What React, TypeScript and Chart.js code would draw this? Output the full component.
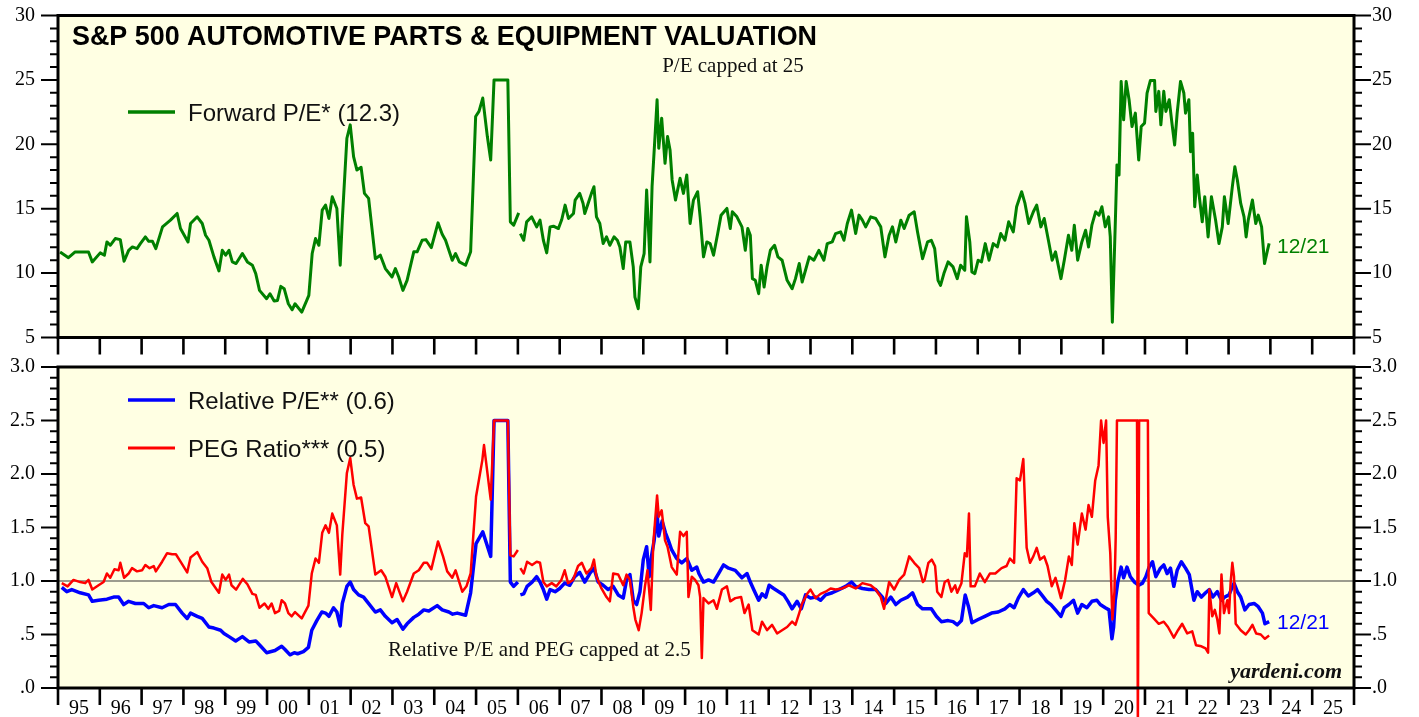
import React, { useEffect, useRef } from "react";
import { Chart, registerables } from "chart.js";

Chart.register(...registerables);

// ---------- DATA ----------
const yearTicks = [1995, 1996, 1997, 1998, 1999, 2000, 2001, 2002, 2003, 2004, 2005, 2006, 2007, 2008, 2009, 2010, 2011, 2012, 2013, 2014, 2015, 2016, 2017, 2018, 2019, 2020, 2021, 2022, 2023, 2024, 2025, 2026];
const yearLabels = ["95", "96", "97", "98", "99", "00", "01", "02", "03", "04", "05", "06", "07", "08", "09", "10", "11", "12", "13", "14", "15", "16", "17", "18", "19", "20", "21", "22", "23", "24", "25"];
const peTickLabels = ["5", "10", "15", "20", "25", "30"];
const ratioTickLabels = [".0", ".5", "1.0", "1.5", "2.0", "2.5", "3.0"];

// [decimal year, value]
const forwardPE: [number, number | null][] = [
  [1995.05, 11.64], [1995.25, 11.2], [1995.41, 11.64], [1995.73, 11.64], [1995.82, 10.87], [1996.01, 11.57], [1996.11, 11.39], [1996.17, 12.42], [1996.25, 12.16], [1996.37, 12.68],
  [1996.49, 12.6], [1996.58, 10.92], [1996.69, 11.77], [1996.78, 12.03], [1996.89, 11.9], [1996.97, 12.29], [1997.09, 12.81], [1997.17, 12.47], [1997.26, 12.47], [1997.34, 11.9],
  [1997.5, 13.59], [1997.69, 14.11], [1997.85, 14.63], [1997.93, 13.46], [1998.11, 12.42], [1998.17, 13.85], [1998.33, 14.37], [1998.45, 13.85], [1998.53, 12.94], [1998.61, 12.55],
  [1998.73, 11.26], [1998.85, 10.17], [1998.93, 11.77], [1999.01, 11.39], [1999.09, 11.77], [1999.17, 10.87], [1999.26, 10.74], [1999.41, 11.52], [1999.53, 10.87], [1999.65, 10.61],
  [1999.73, 9.96], [1999.82, 8.66], [1999.99, 8.01], [2000.07, 8.4], [2000.17, 7.83], [2000.25, 7.88], [2000.33, 8.97], [2000.41, 8.79], [2000.51, 7.62], [2000.6, 7.15],
  [2000.67, 7.62], [2000.83, 6.97], [2000.95, 7.88], [2001.0, 8.27], [2001.08, 11.52], [2001.16, 12.68], [2001.24, 12.16], [2001.32, 14.89], [2001.4, 15.28], [2001.48, 14.24],
  [2001.56, 15.93], [2001.67, 15.02], [2001.75, 10.61], [2001.8, 14.11], [2001.91, 20.47], [2001.99, 21.51], [2002.07, 19.04], [2002.15, 18.0], [2002.25, 18.21], [2002.33, 16.19],
  [2002.43, 15.8], [2002.59, 11.12], [2002.71, 11.39], [2002.83, 10.35], [2002.99, 9.7], [2003.07, 10.35], [2003.15, 9.7], [2003.25, 8.66], [2003.35, 9.44], [2003.51, 11.65],
  [2003.59, 11.65], [2003.71, 12.55], [2003.8, 12.6], [2003.93, 11.98], [2004.09, 13.9], [2004.19, 13.02], [2004.27, 12.55], [2004.43, 11.0], [2004.51, 11.52], [2004.6, 10.87],
  [2004.75, 10.61], [2004.87, 11.65], [2004.99, 22.16], [2005.07, 22.55], [2005.16, 23.59], [2005.27, 20.6], [2005.35, 18.78], [2005.43, 25.0], [2005.76, 25.0], [2005.82, 13.98],
  [2005.9, 13.72], [2006.02, 14.68], [2006.04, null], [2006.06, 13.07], [2006.14, 12.55], [2006.21, 13.98], [2006.33, 14.37], [2006.45, 13.59], [2006.53, 14.11], [2006.61, 12.55],
  [2006.69, 11.57], [2006.77, 13.59], [2006.85, 13.64], [2006.97, 13.46], [2007.05, 14.16], [2007.13, 15.28], [2007.21, 14.24], [2007.33, 14.63], [2007.37, 15.67], [2007.48, 16.19],
  [2007.56, 15.41], [2007.6, 14.63], [2007.68, 15.41], [2007.76, 16.19], [2007.82, 16.71], [2007.88, 14.37], [2007.96, 13.85], [2008.04, 12.29], [2008.12, 12.81], [2008.2, 12.16],
  [2008.3, 12.81], [2008.38, 12.55], [2008.44, 12.03], [2008.52, 10.35], [2008.58, 12.42], [2008.68, 12.42], [2008.76, 10.48], [2008.8, 8.14], [2008.88, 7.23], [2008.94, 10.48],
  [2009.02, 11.52], [2009.08, 16.45], [2009.16, 10.87], [2009.21, 16.71], [2009.28, 20.6], [2009.33, 23.46], [2009.37, 19.69], [2009.44, 22.03], [2009.52, 18.52], [2009.58, 20.6],
  [2009.64, 19.56], [2009.69, 17.23], [2009.77, 15.67], [2009.88, 17.36], [2009.96, 16.19], [2010.04, 17.62], [2010.12, 13.85], [2010.2, 15.67], [2010.3, 16.32], [2010.36, 14.37],
  [2010.44, 11.26], [2010.52, 12.42], [2010.6, 12.29], [2010.68, 11.39], [2010.78, 13.07], [2010.86, 14.5], [2011.0, 15.02], [2011.08, 13.46], [2011.13, 14.76], [2011.24, 14.37],
  [2011.36, 13.59], [2011.44, 11.77], [2011.5, 13.46], [2011.56, 12.94], [2011.61, 9.57], [2011.68, 9.44], [2011.76, 8.4], [2011.82, 10.61], [2011.89, 8.92], [2011.96, 10.48],
  [2012.04, 11.77], [2012.14, 12.16], [2012.22, 11.26], [2012.32, 11.0], [2012.44, 9.44], [2012.56, 8.79], [2012.64, 9.57], [2012.73, 10.74], [2012.8, 9.31], [2012.88, 10.22],
  [2012.97, 11.26], [2013.08, 11.0], [2013.2, 11.77], [2013.32, 11.0], [2013.4, 12.29], [2013.52, 12.42], [2013.6, 13.07], [2013.72, 13.2], [2013.8, 12.55], [2013.88, 13.85],
  [2013.98, 14.89], [2014.08, 13.07], [2014.16, 14.5], [2014.24, 14.11], [2014.32, 13.59], [2014.44, 14.37], [2014.56, 14.24], [2014.68, 13.59], [2014.78, 11.26], [2014.88, 12.94],
  [2014.96, 13.59], [2015.04, 12.42], [2015.16, 14.11], [2015.24, 13.46], [2015.36, 14.5], [2015.48, 14.76], [2015.56, 13.2], [2015.68, 11.12], [2015.8, 12.42], [2015.89, 12.55],
  [2015.97, 11.9], [2016.05, 9.44], [2016.11, 9.05], [2016.19, 9.96], [2016.29, 10.87], [2016.41, 10.48], [2016.51, 9.57], [2016.59, 10.61], [2016.69, 10.22], [2016.73, 14.37],
  [2016.81, 12.42], [2016.86, 10.09], [2016.93, 9.96], [2017.01, 11.0], [2017.09, 10.87], [2017.18, 12.29], [2017.27, 11.0], [2017.37, 12.29], [2017.47, 12.03], [2017.55, 13.07],
  [2017.65, 12.55], [2017.74, 13.98], [2017.85, 13.2], [2017.93, 15.15], [2018.05, 16.32], [2018.13, 15.41], [2018.22, 13.85], [2018.33, 14.76], [2018.41, 15.28], [2018.51, 13.59],
  [2018.59, 14.24], [2018.69, 12.55], [2018.78, 11.0], [2018.86, 11.65], [2018.99, 9.57], [2019.07, 11.0], [2019.17, 12.94], [2019.25, 11.77], [2019.31, 13.72], [2019.39, 11.0],
  [2019.49, 12.42], [2019.58, 13.33], [2019.65, 12.03], [2019.73, 13.72], [2019.82, 14.76], [2019.9, 14.5], [2019.97, 15.15], [2020.05, 13.59], [2020.13, 14.37], [2020.17, 12.81],
  [2020.22, 6.19], [2020.29, 13.85], [2020.33, 18.4], [2020.38, 17.62], [2020.43, 24.88], [2020.49, 21.9], [2020.55, 24.88], [2020.62, 23.46], [2020.69, 21.38], [2020.77, 22.42],
  [2020.85, 18.78], [2020.91, 21.38], [2020.99, 21.64], [2021.05, 23.98], [2021.13, 24.96], [2021.23, 24.96], [2021.26, 22.55], [2021.33, 24.11], [2021.38, 21.51], [2021.45, 24.11],
  [2021.5, 22.55], [2021.58, 23.46], [2021.65, 21.51], [2021.71, 19.95], [2021.77, 22.42], [2021.85, 24.88], [2021.93, 23.98], [2021.97, 22.42], [2022.05, 23.46], [2022.09, 19.43],
  [2022.14, 20.86], [2022.19, 15.15], [2022.25, 17.62], [2022.3, 15.93], [2022.37, 13.98], [2022.43, 15.93], [2022.51, 12.81], [2022.59, 15.93], [2022.69, 14.11], [2022.77, 12.29],
  [2022.85, 13.59], [2022.9, 15.93], [2022.99, 13.85], [2023.09, 16.71], [2023.15, 18.26], [2023.21, 17.23], [2023.29, 15.41], [2023.37, 14.37], [2023.42, 12.81], [2023.47, 14.11],
  [2023.57, 15.67], [2023.65, 13.85], [2023.71, 14.5], [2023.79, 13.59], [2023.86, 10.74], [2023.93, 11.77], [2023.97, 12.3],
];

const relativePE: [number, number | null][] = [
  [1995.09, 0.94], [1995.21, 0.9], [1995.33, 0.92], [1995.53, 0.89], [1995.73, 0.87], [1995.82, 0.81], [1995.97, 0.82], [1996.17, 0.83], [1996.33, 0.85], [1996.45, 0.85],
  [1996.57, 0.78], [1996.69, 0.81], [1996.85, 0.79], [1997.05, 0.79], [1997.17, 0.75], [1997.29, 0.77], [1997.49, 0.75], [1997.65, 0.78], [1997.81, 0.78], [1997.97, 0.7],
  [1998.09, 0.65], [1998.17, 0.7], [1998.33, 0.67], [1998.45, 0.65], [1998.61, 0.57], [1998.73, 0.56], [1998.89, 0.54], [1998.97, 0.51], [1999.09, 0.48], [1999.25, 0.44],
  [1999.41, 0.48], [1999.57, 0.43], [1999.73, 0.44], [1999.85, 0.39], [1999.99, 0.33], [2000.19, 0.35], [2000.35, 0.39], [2000.43, 0.36], [2000.55, 0.31], [2000.65, 0.33],
  [2000.73, 0.32], [2000.87, 0.34], [2000.99, 0.38], [2001.07, 0.54], [2001.19, 0.63], [2001.31, 0.71], [2001.4, 0.7], [2001.48, 0.67], [2001.59, 0.75], [2001.67, 0.71],
  [2001.75, 0.58], [2001.8, 0.79], [2001.91, 0.95], [2001.99, 0.99], [2002.07, 0.92], [2002.19, 0.87], [2002.31, 0.85], [2002.39, 0.81], [2002.59, 0.71], [2002.71, 0.73],
  [2002.83, 0.67], [2002.99, 0.61], [2003.11, 0.64], [2003.25, 0.55], [2003.35, 0.6], [2003.51, 0.66], [2003.63, 0.69], [2003.75, 0.73], [2003.87, 0.72], [2004.07, 0.77],
  [2004.19, 0.73], [2004.35, 0.71], [2004.44, 0.69], [2004.55, 0.7], [2004.75, 0.68], [2004.87, 0.89], [2005.0, 1.35], [2005.16, 1.46], [2005.35, 1.23], [2005.43, 2.5],
  [2005.76, 2.5], [2005.82, 0.99], [2005.9, 0.95], [2006.0, 0.99], [2006.04, null], [2006.06, 0.87], [2006.14, 0.88], [2006.22, 0.95], [2006.34, 0.99], [2006.45, 1.04],
  [2006.53, 0.99], [2006.61, 0.92], [2006.69, 0.83], [2006.77, 0.92], [2006.89, 0.9], [2007.0, 0.93], [2007.12, 0.98], [2007.24, 0.96], [2007.36, 1.04], [2007.48, 1.08],
  [2007.6, 0.99], [2007.72, 1.07], [2007.82, 1.12], [2007.92, 0.99], [2008.04, 0.96], [2008.16, 0.92], [2008.28, 0.95], [2008.4, 0.87], [2008.52, 0.84], [2008.6, 1.01],
  [2008.68, 1.06], [2008.76, 0.82], [2008.84, 0.78], [2008.92, 0.9], [2009.0, 1.2], [2009.08, 1.32], [2009.14, 1.04], [2009.2, 1.24], [2009.26, 1.38], [2009.33, 1.63],
  [2009.37, 1.42], [2009.45, 1.56], [2009.53, 1.45], [2009.6, 1.38], [2009.68, 1.29], [2009.8, 1.21], [2009.92, 1.17], [2010.04, 1.21], [2010.16, 1.1], [2010.28, 1.13],
  [2010.33, 1.07], [2010.44, 0.99], [2010.56, 1.01], [2010.68, 0.99], [2010.8, 1.07], [2010.92, 1.15], [2011.04, 1.12], [2011.2, 1.1], [2011.36, 1.03], [2011.48, 1.07],
  [2011.56, 0.99], [2011.64, 0.92], [2011.76, 0.82], [2011.84, 0.88], [2011.93, 0.85], [2012.01, 0.96], [2012.12, 0.93], [2012.24, 0.9], [2012.36, 0.87], [2012.46, 0.81],
  [2012.56, 0.74], [2012.68, 0.81], [2012.78, 0.74], [2012.88, 0.87], [2013.0, 0.84], [2013.12, 0.85], [2013.24, 0.82], [2013.36, 0.87], [2013.52, 0.89], [2013.68, 0.92],
  [2013.84, 0.95], [2013.98, 0.99], [2014.08, 0.95], [2014.24, 0.93], [2014.4, 0.92], [2014.56, 0.92], [2014.72, 0.85], [2014.8, 0.79], [2014.92, 0.85], [2015.04, 0.78],
  [2015.16, 0.82], [2015.32, 0.85], [2015.44, 0.89], [2015.56, 0.78], [2015.68, 0.74], [2015.89, 0.74], [2016.01, 0.67], [2016.13, 0.62], [2016.29, 0.63], [2016.41, 0.62],
  [2016.51, 0.59], [2016.61, 0.63], [2016.7, 0.87], [2016.78, 0.76], [2016.86, 0.61], [2017.01, 0.64], [2017.17, 0.67], [2017.33, 0.7], [2017.49, 0.71], [2017.65, 0.74],
  [2017.77, 0.78], [2017.87, 0.75], [2017.97, 0.84], [2018.09, 0.92], [2018.21, 0.86], [2018.33, 0.89], [2018.43, 0.92], [2018.53, 0.87], [2018.65, 0.81], [2018.75, 0.78],
  [2018.86, 0.73], [2018.99, 0.67], [2019.07, 0.75], [2019.18, 0.78], [2019.29, 0.82], [2019.39, 0.7], [2019.49, 0.78], [2019.61, 0.75], [2019.73, 0.81], [2019.85, 0.82],
  [2019.93, 0.78], [2020.05, 0.75], [2020.14, 0.73], [2020.21, 0.46], [2020.25, 0.57], [2020.29, 0.82], [2020.35, 0.99], [2020.43, 1.13], [2020.49, 1.03], [2020.57, 1.13],
  [2020.65, 1.04], [2020.75, 0.99], [2020.85, 0.96], [2020.94, 0.98], [2021.02, 1.04], [2021.1, 1.13], [2021.18, 1.18], [2021.26, 1.04], [2021.37, 1.12], [2021.45, 1.15],
  [2021.53, 1.07], [2021.61, 1.12], [2021.69, 0.95], [2021.77, 1.1], [2021.87, 1.18], [2021.97, 1.12], [2022.06, 1.06], [2022.17, 0.82], [2022.25, 0.9], [2022.35, 0.85],
  [2022.45, 0.89], [2022.54, 0.92], [2022.62, 0.85], [2022.73, 0.9], [2022.83, 0.82], [2022.91, 0.85], [2023.01, 0.87], [2023.13, 0.98], [2023.21, 0.9], [2023.29, 0.85],
  [2023.39, 0.73], [2023.49, 0.78], [2023.61, 0.79], [2023.71, 0.76], [2023.81, 0.7], [2023.87, 0.6], [2023.97, 0.62],
];

const pegRatio: [number, number | null][] = [
  [1995.09, 0.98], [1995.23, 0.95], [1995.37, 1.01], [1995.53, 0.99], [1995.65, 0.98], [1995.73, 1.01], [1995.82, 0.92], [1995.97, 0.96], [1996.09, 0.99], [1996.17, 1.07],
  [1996.25, 1.03], [1996.35, 1.11], [1996.45, 1.1], [1996.49, 1.17], [1996.58, 1.03], [1996.69, 1.07], [1996.77, 1.12], [1996.89, 1.09], [1997.01, 1.1], [1997.09, 1.15],
  [1997.19, 1.12], [1997.29, 1.14], [1997.34, 1.09], [1997.49, 1.18], [1997.61, 1.26], [1997.73, 1.25], [1997.82, 1.25], [1997.95, 1.17], [1998.09, 1.08], [1998.17, 1.22],
  [1998.33, 1.27], [1998.45, 1.18], [1998.57, 1.12], [1998.67, 0.99], [1998.85, 0.89], [1998.93, 1.06], [1999.01, 1.01], [1999.09, 1.06], [1999.15, 0.96], [1999.26, 0.92],
  [1999.42, 1.02], [1999.53, 0.97], [1999.65, 0.88], [1999.73, 0.87], [1999.82, 0.75], [1999.94, 0.79], [2000.03, 0.74], [2000.11, 0.79], [2000.19, 0.7], [2000.29, 0.72],
  [2000.35, 0.82], [2000.43, 0.79], [2000.51, 0.7], [2000.59, 0.67], [2000.67, 0.71], [2000.83, 0.65], [2000.99, 0.77], [2001.07, 1.07], [2001.16, 1.21], [2001.24, 1.17],
  [2001.32, 1.45], [2001.4, 1.52], [2001.48, 1.45], [2001.56, 1.63], [2001.67, 1.52], [2001.75, 1.06], [2001.8, 1.43], [2001.91, 2.01], [2001.99, 2.15], [2002.07, 1.9],
  [2002.15, 1.77], [2002.25, 1.78], [2002.35, 1.54], [2002.43, 1.51], [2002.59, 1.06], [2002.73, 1.1], [2002.83, 1.04], [2002.99, 0.85], [2003.09, 0.98], [2003.25, 0.81],
  [2003.35, 0.9], [2003.51, 1.07], [2003.63, 1.1], [2003.75, 1.17], [2003.83, 1.17], [2003.93, 1.11], [2004.09, 1.37], [2004.21, 1.23], [2004.31, 1.09], [2004.43, 1.03],
  [2004.51, 1.1], [2004.67, 0.9], [2004.77, 0.95], [2004.87, 1.07], [2005.0, 1.79], [2005.15, 2.13], [2005.19, 2.27], [2005.35, 1.76], [2005.43, 2.5], [2005.76, 2.5],
  [2005.82, 1.24], [2005.9, 1.23], [2006.0, 1.29], [2006.04, null], [2006.06, 1.12], [2006.14, 1.07], [2006.22, 1.18], [2006.34, 1.15], [2006.45, 1.18], [2006.53, 1.17],
  [2006.61, 0.99], [2006.69, 0.95], [2006.81, 0.98], [2006.92, 0.95], [2007.04, 1.01], [2007.12, 1.1], [2007.2, 0.98], [2007.32, 1.01], [2007.44, 1.14], [2007.53, 1.17],
  [2007.64, 1.07], [2007.76, 1.12], [2007.82, 1.2], [2007.88, 1.04], [2008.0, 0.93], [2008.12, 0.85], [2008.2, 0.81], [2008.28, 1.07], [2008.4, 1.06], [2008.52, 0.96],
  [2008.6, 1.06], [2008.68, 1.01], [2008.76, 0.76], [2008.81, 0.64], [2008.89, 0.54], [2008.96, 0.7], [2009.04, 0.95], [2009.1, 1.1], [2009.18, 0.73], [2009.24, 1.35],
  [2009.33, 1.8], [2009.37, 1.6], [2009.44, 1.66], [2009.52, 1.38], [2009.58, 1.32], [2009.68, 1.13], [2009.8, 1.06], [2009.88, 1.46], [2009.96, 1.42], [2010.04, 1.46],
  [2010.08, 0.85], [2010.16, 1.04], [2010.24, 1.01], [2010.32, 0.96], [2010.36, 0.85], [2010.4, 0.28], [2010.44, 0.84], [2010.56, 0.79], [2010.68, 0.82], [2010.76, 0.74],
  [2010.88, 0.92], [2011.0, 0.95], [2011.08, 0.81], [2011.2, 0.84], [2011.34, 0.85], [2011.42, 0.7], [2011.52, 0.78], [2011.61, 0.54], [2011.76, 0.5], [2011.84, 0.62],
  [2011.96, 0.54], [2012.08, 0.59], [2012.2, 0.51], [2012.32, 0.54], [2012.44, 0.57], [2012.56, 0.62], [2012.64, 0.59], [2012.73, 0.7], [2012.8, 0.79], [2012.92, 0.88],
  [2013.0, 0.92], [2013.12, 0.84], [2013.24, 0.88], [2013.36, 0.9], [2013.48, 0.93], [2013.6, 0.92], [2013.76, 0.93], [2013.92, 0.96], [2014.08, 0.93], [2014.24, 0.98],
  [2014.44, 0.96], [2014.56, 0.92], [2014.68, 0.85], [2014.76, 0.74], [2014.88, 0.99], [2015.0, 0.92], [2015.12, 1.01], [2015.24, 1.06], [2015.36, 1.23], [2015.48, 1.17],
  [2015.6, 1.12], [2015.69, 0.99], [2015.73, 1.01], [2015.82, 1.17], [2015.9, 1.2], [2015.98, 1.14], [2016.03, 0.9], [2016.13, 0.85], [2016.21, 0.99], [2016.29, 1.01],
  [2016.37, 0.9], [2016.46, 0.96], [2016.51, 0.89], [2016.61, 0.98], [2016.69, 1.26], [2016.74, 1.23], [2016.79, 1.63], [2016.83, 0.95], [2016.93, 0.95], [2017.05, 1.07],
  [2017.17, 0.99], [2017.29, 1.07], [2017.42, 1.07], [2017.57, 1.12], [2017.69, 1.14], [2017.77, 1.21], [2017.87, 1.17], [2017.93, 1.96], [2018.01, 1.94], [2018.09, 2.14],
  [2018.17, 1.31], [2018.25, 1.17], [2018.33, 1.23], [2018.41, 1.31], [2018.49, 1.2], [2018.59, 1.23], [2018.67, 1.14], [2018.77, 0.95], [2018.86, 1.03], [2018.99, 0.84],
  [2019.09, 1.01], [2019.18, 1.23], [2019.25, 1.15], [2019.31, 1.54], [2019.39, 1.34], [2019.49, 1.63], [2019.58, 1.48], [2019.65, 1.71], [2019.73, 1.6], [2019.81, 1.94],
  [2019.89, 2.08], [2019.95, 2.5], [2020.01, 2.29], [2020.07, 2.5], [2020.11, 1.6], [2020.17, 1.26], [2020.22, 0.64], [2020.27, 0.9], [2020.3, 1.41], [2020.33, 2.5],
  [2020.81, 2.5], [2020.83, -0.4], [2020.86, 2.5], [2021.07, 2.5], [2021.09, 0.7], [2021.21, 0.65], [2021.33, 0.6], [2021.45, 0.62], [2021.55, 0.57], [2021.69, 0.47],
  [2021.79, 0.54], [2021.89, 0.6], [2022.01, 0.51], [2022.13, 0.53], [2022.22, 0.4], [2022.35, 0.39], [2022.45, 0.37], [2022.51, 0.33], [2022.54, 0.92], [2022.61, 0.67],
  [2022.67, 0.73], [2022.73, 0.64], [2022.78, 0.51], [2022.83, 1.06], [2022.89, 0.7], [2022.97, 0.82], [2023.01, 0.7], [2023.05, 0.99], [2023.09, 1.17], [2023.13, 1.04],
  [2023.17, 0.6], [2023.29, 0.54], [2023.41, 0.5], [2023.49, 0.54], [2023.57, 0.59], [2023.66, 0.51], [2023.77, 0.5], [2023.87, 0.46], [2023.97, 0.49],
];

const TITLE = "S&P 500 AUTOMOTIVE PARTS & EQUIPMENT VALUATION";
const PE_LEGEND = "Forward P/E* (12.3)";
const REL_LEGEND = "Relative P/E** (0.6)";
const PEG_LEGEND = "PEG Ratio*** (0.5)";
const PE_NOTE = "P/E capped at 25";
const RATIO_NOTE = "Relative P/E and PEG capped at 2.5";
const LAST_DATE = "12/21";
const SOURCE = "yardeni.com";

// ---------- STYLE ----------
const BG = "#FFFFE3";
const GREEN = "#008000";
const BLUE = "#0000FF";
const RED = "#FF0000";
const SERIF = '"Liberation Serif", "Times New Roman", serif';
const SANS = '"Liberation Sans", Arial, sans-serif';

type Txt = { text: string; x: number; y: number; font: string; color: string; align: CanvasTextAlign };
type Leg = { label: string; color: string; y: number; width: number };

function toPoints(arr: [number, number | null][]) {
  return arr.map(([x, y]) => ({ x, y }));
}

function panelPlugin(cfg: {
  id: string;
  offsetY: number;
  majorStep: number;
  minorStep: number;
  texts: Txt[];
  legends: Leg[];
  refLine?: number;
}) {
  return {
    id: cfg.id,
    beforeDraw(chart: any) {
      const { ctx, chartArea: a } = chart;
      ctx.save();
      ctx.fillStyle = BG;
      ctx.fillRect(a.left, a.top, a.right - a.left, a.bottom - a.top);
      ctx.restore();
    },
    beforeDatasetsDraw(chart: any) {
      if (cfg.refLine == null) return;
      const { ctx, chartArea: a } = chart;
      const py = chart.scales.y.getPixelForValue(cfg.refLine);
      ctx.save();
      ctx.strokeStyle = "#3a3a3a";
      ctx.lineWidth = 1.2;
      ctx.beginPath();
      ctx.moveTo(a.left, py);
      ctx.lineTo(a.right, py);
      ctx.stroke();
      ctx.restore();
    },
    afterDraw(chart: any) {
      const { ctx, chartArea: a, scales } = chart;
      const ys = scales.y;
      const xs = scales.x;
      ctx.save();
      ctx.strokeStyle = "#000";
      const n = Math.round((ys.max - ys.min) / cfg.minorStep);
      ctx.lineWidth = 2;
      for (let i = 0; i <= n; i++) {
        const v = ys.min + i * cfg.minorStep;
        const py = ys.getPixelForValue(v);
        const r = v / cfg.majorStep;
        const major = Math.abs(r - Math.round(r)) < 1e-6;
        const len = major ? 17 : 8;
        ctx.beginPath();
        ctx.moveTo(a.left - len, py);
        ctx.lineTo(a.left, py);
        ctx.moveTo(a.right, py);
        ctx.lineTo(a.right + len, py);
        ctx.stroke();
      }
      ctx.lineWidth = 2.6;
      for (const yr of yearTicks) {
        const px = xs.getPixelForValue(yr);
        ctx.beginPath();
        ctx.moveTo(px, a.bottom);
        ctx.lineTo(px, a.bottom + 17);
        ctx.stroke();
      }
      ctx.lineWidth = 3;
      ctx.strokeRect(a.left, a.top, a.right - a.left, a.bottom - a.top);
      for (const l of cfg.legends) {
        const y = l.y - cfg.offsetY;
        ctx.strokeStyle = l.color;
        ctx.lineWidth = l.width;
        ctx.beginPath();
        ctx.moveTo(128, y);
        ctx.lineTo(175, y);
        ctx.stroke();
        ctx.fillStyle = "#111";
        ctx.font = `24px ${SANS}`;
        ctx.textAlign = "left";
        ctx.textBaseline = "alphabetic";
        ctx.fillText(l.label, 188, y + 8.6);
      }
      for (const t of cfg.texts) {
        ctx.fillStyle = t.color;
        ctx.font = t.font;
        ctx.textAlign = t.align;
        ctx.textBaseline = "alphabetic";
        ctx.fillText(t.text, t.x, t.y - cfg.offsetY);
      }
      ctx.restore();
    },
  };
}

const tickFont = { family: SERIF, size: 20 };

function yAxis(min: number, max: number, step: number, labels: string[], side: "left" | "right") {
  return {
    position: side,
    min,
    max,
    ticks: { stepSize: step, padding: 0, font: tickFont, color: "#000", callback: (_v: any, i: number) => labels[i] },
    grid: { display: false, drawTicks: true, tickLength: side === "left" ? 23 : 18 },
    border: { display: false },
    afterFit: (s: any) => { s.width = side === "left" ? 58 : 1419 - 1354; },
  };
}

export default function App() {
  const topRef = useRef<HTMLCanvasElement | null>(null);
  const botRef = useRef<HTMLCanvasElement | null>(null);

  useEffect(() => {
    const topCanvas = topRef.current!;
    const botCanvas = botRef.current!;

    const topChart = new Chart(topCanvas, {
      type: "line",
      data: {
        datasets: [
          {
            data: toPoints(forwardPE) as any,
            borderColor: GREEN,
            borderWidth: 3,
            pointRadius: 0,
            tension: 0,
            borderJoinStyle: "round",
            spanGaps: false,
          },
        ],
      },
      options: {
        animation: false,
        responsive: false,
        maintainAspectRatio: false,
        events: [],
        layout: { padding: { top: 15.5, bottom: 22.5, left: 0, right: 0 } },
        plugins: { legend: { display: false }, tooltip: { enabled: false }, title: { display: false } },
        scales: {
          x: { type: "linear", min: 1995, max: 2026, display: false },
          y: yAxis(5, 30, 5, peTickLabels, "left"),
          y2: yAxis(5, 30, 5, peTickLabels, "right"),
        },
      } as any,
      plugins: [
        panelPlugin({
          id: "topPanel",
          offsetY: 0,
          majorStep: 5,
          minorStep: 1,
          legends: [{ label: PE_LEGEND, color: GREEN, y: 112, width: 3.5 }],
          texts: [
            { text: TITLE, x: 72, y: 45, font: `bold 26.9px ${SANS}`, color: "#000", align: "left" },
            { text: PE_NOTE, x: 733, y: 72, font: `21px ${SERIF}`, color: "#111", align: "center" },
            { text: LAST_DATE, x: 1277, y: 253, font: `21px ${SANS}`, color: GREEN, align: "left" },
          ],
        }) as any,
      ],
    });

    const botChart = new Chart(botCanvas, {
      type: "line",
      data: {
        datasets: [
          {
            data: toPoints(pegRatio) as any,
            borderColor: RED,
            borderWidth: 2.5,
            pointRadius: 0,
            tension: 0,
            borderJoinStyle: "round",
            spanGaps: false,
            clip: false as any,
            order: 0,
          },
          {
            data: toPoints(relativePE) as any,
            borderColor: BLUE,
            borderWidth: 3.5,
            pointRadius: 0,
            tension: 0,
            borderJoinStyle: "round",
            spanGaps: false,
            order: 1,
          },
        ],
      },
      options: {
        animation: false,
        responsive: false,
        maintainAspectRatio: false,
        events: [],
        layout: { padding: { top: 27, bottom: 0, left: 0, right: 0 } },
        plugins: { legend: { display: false }, tooltip: { enabled: false }, title: { display: false } },
        scales: {
          x: {
            type: "linear",
            min: 1995,
            max: 2026,
            position: "bottom",
            afterBuildTicks: (s: any) => {
              s.ticks = yearLabels.map((_l, i) => ({ value: yearTicks[i] + 0.5 }));
            },
            ticks: {
              autoSkip: false,
              maxRotation: 0,
              minRotation: 0,
              padding: 9,
              font: tickFont,
              color: "#000",
              callback: (_v: any, i: number) => yearLabels[i],
            },
            grid: { display: false, drawTicks: false },
            border: { display: false },
            afterFit: (s: any) => { s.height = 29; },
          },
          y: yAxis(0, 3, 0.5, ratioTickLabels, "left"),
          y2: yAxis(0, 3, 0.5, ratioTickLabels, "right"),
        },
      } as any,
      plugins: [
        panelPlugin({
          id: "botPanel",
          offsetY: 340,
          majorStep: 0.5,
          minorStep: 0.1,
          refLine: 1.0,
          legends: [
            { label: REL_LEGEND, color: BLUE, y: 400, width: 3.5 },
            { label: PEG_LEGEND, color: RED, y: 448, width: 3 },
          ],
          texts: [
            { text: RATIO_NOTE, x: 388, y: 656, font: `21px ${SERIF}`, color: "#111", align: "left" },
            { text: SOURCE, x: 1342, y: 678, font: `italic bold 22px ${SERIF}`, color: "#111", align: "right" },
            { text: LAST_DATE, x: 1277, y: 629, font: `21px ${SANS}`, color: BLUE, align: "left" },
          ],
        }) as any,
      ],
    });

    return () => {
      topChart.destroy();
      botChart.destroy();
    };
  }, []);

  return (
    <div style={{ position: "absolute", left: 0, top: 0, width: 1419, height: 717, background: "#fff", overflow: "hidden" }}>
      <canvas ref={topRef} width={1419} height={360} style={{ position: "absolute", left: 0, top: 0, width: 1419, height: 360 }} />
      <canvas ref={botRef} width={1419} height={377} style={{ position: "absolute", left: 0, top: 340, width: 1419, height: 377 }} />
    </div>
  );
}
